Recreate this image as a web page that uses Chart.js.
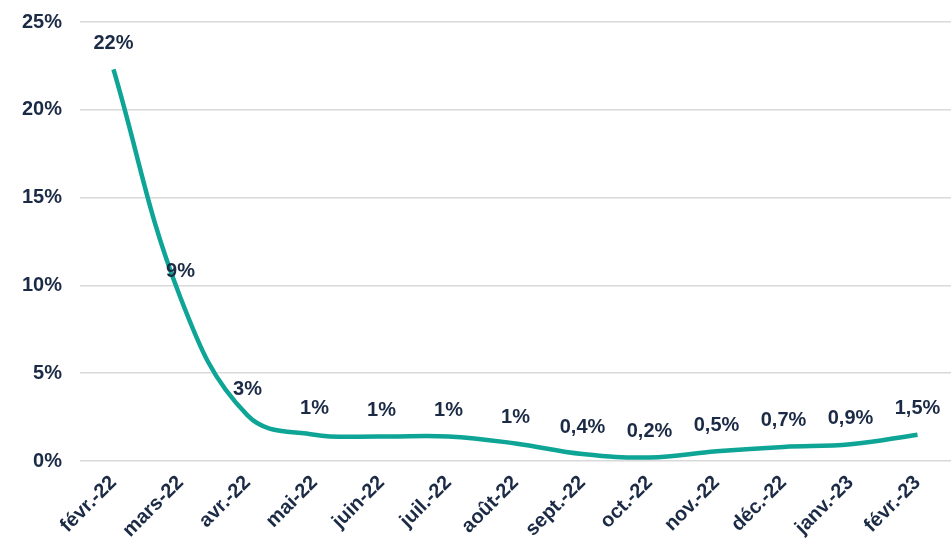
<!DOCTYPE html>
<html>
<head>
<meta charset="utf-8">
<script src="https://cdn.jsdelivr.net/npm/chart.js@4"></script>
<style>
    html, body { margin: 0; padding: 0; background: #fff; }
    #wrap { width: 951px; height: 556px; }
</style>
</head>
<body>
<div id="wrap"><canvas id="lineChart" width="951" height="556"></canvas></div>
<script>
// Chart data
const months = ['févr.-22', 'mars-22', 'avr.-22', 'mai-22', 'juin-22', 'juil.-22', 'août-22',
    'sept.-22', 'oct.-22', 'nov.-22', 'déc.-22', 'janv.-23', 'févr.-23'];
const rates = [22.3, 9.3, 2.6, 1.5, 1.4, 1.4, 1.0, 0.4, 0.2, 0.55, 0.8, 0.95, 1.5];
const rateLabels = ['22%', '9%', '3%', '1%', '1%', '1%', '1%', '0,4%', '0,2%', '0,5%', '0,7%', '0,9%', '1,5%'];
const yTicks = [0, 5, 10, 15, 20, 25];

const textColor = '#1b2a45';
const fontFamily = '"Liberation Sans", Arial, sans-serif';

// Draw value labels above each point
const pointLabels = {
    id: 'pointLabels',
    afterDatasetsDraw(chart) {
        const ctx = chart.ctx;
        const meta = chart.getDatasetMeta(0);
        ctx.save();
        ctx.font = 'bold 20px ' + fontFamily;
        ctx.fillStyle = textColor;
        ctx.textAlign = 'center';
        ctx.textBaseline = 'middle';
        meta.data.forEach((pt, i) => {
            ctx.fillText(rateLabels[i], pt.x, pt.y - 26);
        });
        ctx.restore();
    }
};

document.addEventListener('DOMContentLoaded', function() {
    const ctx = document.getElementById('lineChart').getContext('2d');
    new Chart(ctx, {
        type: 'line',
        data: {
            labels: months,
            datasets: [{
                data: rates,
                borderColor: '#0ea596',
                borderWidth: 4.5,
                pointRadius: 0,
                tension: 0.4,
                fill: false
            }]
        },
        options: {
            responsive: false,
            animation: false,
            layout: { padding: { top: 22, right: 0, left: 0, bottom: 0 } },
            plugins: {
                legend: { display: false },
                tooltip: { enabled: false }
            },
            scales: {
                x: {
                    offset: true,
                    grid: { display: false },
                    border: { display: false },
                    ticks: {
                        color: textColor,
                        font: { family: fontFamily, size: 20, weight: 'bold' },
                        minRotation: 45,
                        maxRotation: 45,
                        autoSkip: false,
                        padding: 2
                    },
                    afterFit(axis) { axis.height = 95; }
                },
                y: {
                    min: 0,
                    max: 25,
                    afterBuildTicks(axis) { axis.ticks = yTicks.map(v => ({ value: v })); },
                    grid: { color: '#d9d9d9', lineWidth: 1.5, drawTicks: false },
                    border: { display: false },
                    ticks: {
                        color: textColor,
                        font: { family: fontFamily, size: 20, weight: 'bold' },
                        padding: 18,
                        callback: v => v + '%'
                    },
                    afterFit(axis) {
                        axis.width = 80;
                        axis.paddingTop = 0;
                        axis.paddingBottom = 0;
                    }
                }
            }
        },
        plugins: [pointLabels]
    });
});
</script>
</body>
</html>
